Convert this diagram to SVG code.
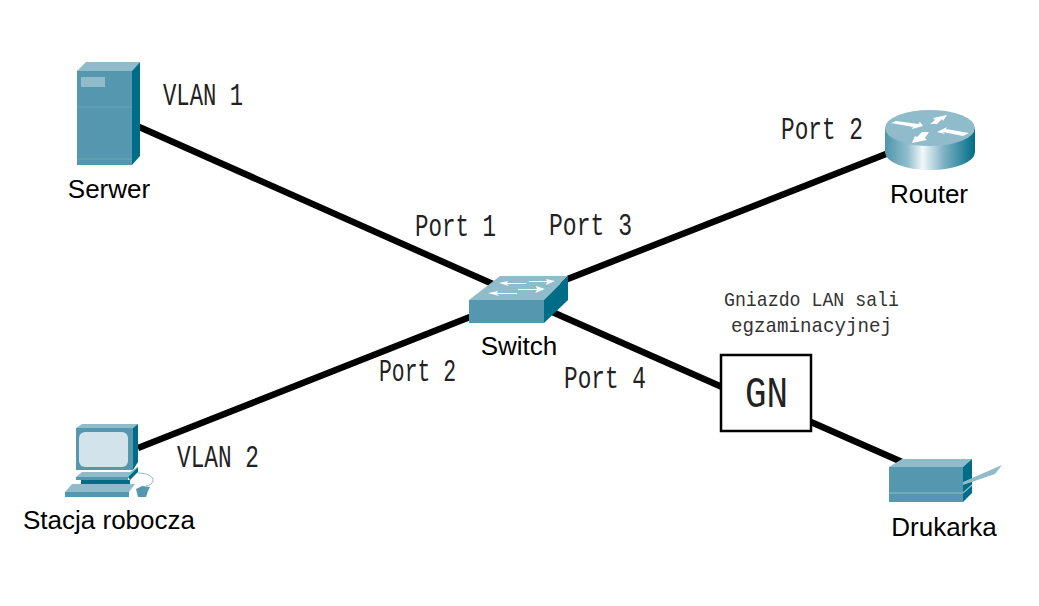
<svg xmlns="http://www.w3.org/2000/svg" width="1039" height="606" viewBox="0 0 1039 606">
<style>
.lbl{font-family:"Liberation Sans",Arial,sans-serif;font-size:26px;fill:#000;text-anchor:middle}
.m{font-family:"Liberation Mono","DejaVu Sans Mono",monospace;font-size:31px;fill:#222}
.s{font-family:"Liberation Mono","DejaVu Sans Mono",monospace;font-size:21px;fill:#333}
.link{stroke:#000;stroke-width:6.5;fill:none}
.front{fill:#5497ae}.top{fill:#8fbbcb}.side{fill:#006d88}.lt{fill:#d3e3eb}
</style>
<defs>
<linearGradient id="rg" x1="0" x2="1" y1="0" y2="0">
<stop offset="0" stop-color="#4f95ab"/><stop offset=".25" stop-color="#8fbdcb"/><stop offset=".42" stop-color="#f2f8fa"/><stop offset=".65" stop-color="#7fb2c4"/><stop offset="1" stop-color="#006d88"/>
</linearGradient>
</defs>
<rect width="1039" height="606" fill="#fff"/>
<g id="connectors">
<path class="link" d="M137 126L495 285"/>
<path class="link" d="M138 448L480 313"/>
<path class="link" d="M886 154L560 282"/>
<path class="link" d="M550 311L722 387"/>
<path class="link" d="M811 422L902 462"/>
</g>
<g id="serwer">
<polygon class="top" points="77,71 86,62 140,62 132,71"/>
<polygon class="side" points="132,71 140,62 140,156 132,165"/>
<rect class="front" x="77" y="71" width="55" height="94"/>
<rect x="81" y="77" width="24" height="10" fill="#8fbbcb"/>
<path d="M77 107H132M77 159H132" stroke="#6ba7bb" stroke-width="1" fill="none"/>
<text class="lbl" x="109" y="198">Serwer</text>
</g>
<g id="router">
<path d="M885 128V152A45 18 0 0 0 975 152V128Z" fill="url(#rg)"/>
<ellipse class="top" cx="930" cy="128" rx="45" ry="18"/>
<g fill="#fff">
<polygon points="891,123 896,121 918,124 920,122 923,126 912,129 913,127"/>
<polygon points="969,133 963,136 943,132 945,134 937,132 947,127 946,129"/>
<polygon points="930,124 935,120 933,118 947,115 943,121 942,119 937,124"/>
<polygon points="929,132 925,138 927,140 912,143 915,136 917,137 922,132"/>
</g>
<text class="lbl" x="929" y="203">Router</text>
</g>
<g id="switch">
<polygon class="top" points="469,300 500,276 568,276 544,300"/>
<polygon class="side" points="544,300 568,276 568,300 544,323"/>
<rect class="front" x="469" y="300" width="75" height="23"/>
<g fill="#fff">
<polygon points="499,283 508,281 507,283 526,283 526,284 507,284 509,286"/>
<polygon points="555,281 546,285 547,282 529,282 529,281 547,281 546,279"/>
<polygon points="488,293 498,291 497,293 517,293 517,294 497,294 499,296"/>
<polygon points="545,289 535,293 537,290 518,290 518,289 537,289 536,286"/>
</g>
<text class="lbl" x="519" y="355">Switch</text>
</g>
<g id="stacja">
<polygon class="top" points="76,428 82,424 138,424 133,428"/>
<polygon class="side" points="133,428 138,424 138,462 133,470"/>
<rect class="front" x="76" y="428" width="57" height="42"/>
<rect class="lt" x="79" y="432" width="49" height="35" rx="6"/>
<polygon class="top" points="76,477 82,472 130,472 138,467 128,477"/>
<polygon class="side" points="128,477 138,467 138,472 130,480"/>
<rect class="front" x="76" y="477" width="52" height="3"/>
<rect class="side" x="81" y="480" width="49" height="4"/>
<polygon class="top" points="65,492 72,484 135,484 129,492"/>
<rect class="front" x="65" y="492" width="64" height="5"/>
<polygon class="front" points="136,489 142,486 150,487 148,491 146,497 138,497"/>
<path d="M138 473C148 473 154 477 153 481C152 484 149 486 146 486" fill="none" stroke="#8fbbcb" stroke-width="1"/>
<text class="lbl" x="109" y="529">Stacja robocza</text>
</g>
<g id="drukarka">
<polygon class="top" points="889,467 902,459 972,459 963,467"/>
<polygon class="side" points="963,467 972,459 972,493 963,502"/>
<rect class="front" x="889" y="467" width="74" height="35"/>
<path d="M889 493H963M963 493L972 485" stroke="#8fbbcb" stroke-width="1.2" fill="none"/>
<polygon class="top" points="963,482 1002,465 995,474 963,485"/>
<text class="lbl" x="944" y="536">Drukarka</text>
</g>
<g id="gn">
<rect x="721" y="355" width="90" height="76" fill="#fff" stroke="#000" stroke-width="2.5"/>
<text x="745" y="407" font-family="Liberation Mono,monospace" font-size="45" fill="#222" textLength="43" lengthAdjust="spacingAndGlyphs">GN</text>
</g>
<g id="labels">
<text class="m" x="163" y="105" textLength="80" lengthAdjust="spacingAndGlyphs">VLAN 1</text>
<text class="m" x="177" y="467" textLength="82" lengthAdjust="spacingAndGlyphs">VLAN 2</text>
<text class="m" x="415" y="236" textLength="81" lengthAdjust="spacingAndGlyphs">Port 1</text>
<text class="m" x="379" y="381" textLength="77" lengthAdjust="spacingAndGlyphs">Port 2</text>
<text class="m" x="549" y="235" textLength="83" lengthAdjust="spacingAndGlyphs">Port 3</text>
<text class="m" x="564" y="388" textLength="82" lengthAdjust="spacingAndGlyphs">Port 4</text>
<text class="m" x="781" y="139" textLength="82" lengthAdjust="spacingAndGlyphs">Port 2</text>
<text class="s" x="724" y="306" textLength="175" lengthAdjust="spacingAndGlyphs">Gniazdo LAN sali</text>
<text class="s" x="731" y="332" textLength="161" lengthAdjust="spacingAndGlyphs">egzaminacyjnej</text>
</g>
</svg>
